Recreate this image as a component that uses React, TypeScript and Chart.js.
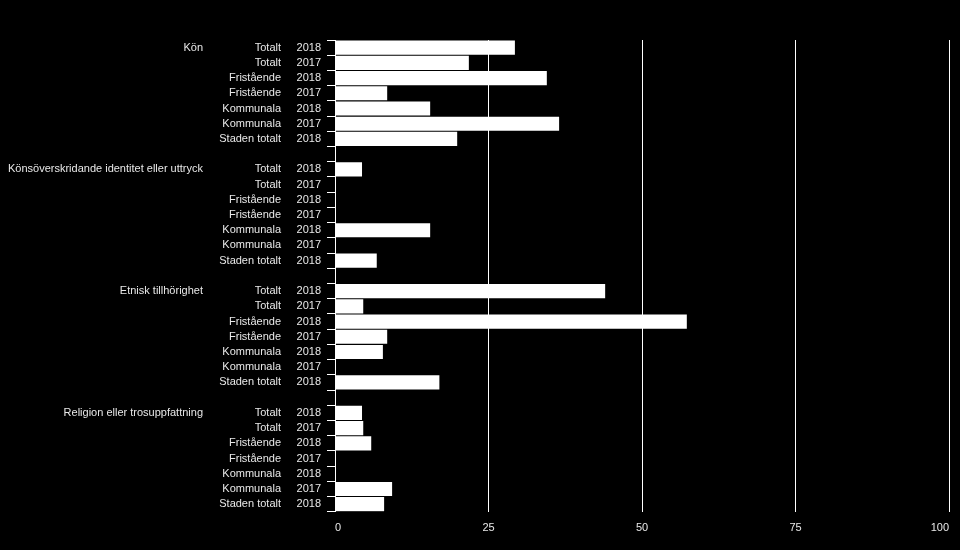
import React, { useEffect, useRef } from "react";
import { Chart, registerables } from "chart.js";

Chart.register(...registerables);

const groupNames = [
  "Kön",
  "Könsöverskridande identitet eller uttryck",
  "Etnisk tillhörighet",
  "Religion eller trosuppfattning",
];
const subLabels = ["Totalt", "Totalt", "Fristående", "Fristående", "Kommunala", "Kommunala", "Staden totalt"];
const yearLabels = ["2018", "2017", "2018", "2017", "2018", "2017", "2018"];

const konValues = [29.3, 21.8, 34.5, 8.5, 15.5, 36.5, 19.9];
const konsoverskridandeValues = [4.4, 0, 0, 0, 15.5, 0, 6.8];
const etniskValues = [44.0, 4.6, 57.3, 8.5, 7.8, 0, 17.0];
const religionValues = [4.4, 4.6, 5.9, 0, 0, 9.3, 8.0];

const xTicks = [0, 25, 50, 75, 100];

const FONT = "'Liberation Sans', Arial, Helvetica, sans-serif";
const TEXT = "#e8e8e8";

type Row = { group: string; sub: string; year: string; value: number | null };

function buildRows(): Row[] {
  const series = [konValues, konsoverskridandeValues, etniskValues, religionValues];
  const rows: Row[] = [];
  series.forEach((vals, g) => {
    if (g > 0) rows.push({ group: "", sub: "", year: "", value: null });
    vals.forEach((v, i) => {
      rows.push({ group: i === 0 ? groupNames[g] : "", sub: subLabels[i], year: yearLabels[i], value: v });
    });
  });
  return rows;
}

export default function App() {
  const ref = useRef<HTMLCanvasElement | null>(null);

  useEffect(() => {
    if (!ref.current) return;
    const rows = buildRows();

    const labelPlugin = {
      id: "multiLabels",
      afterDraw(chart: any) {
        const ctx = chart.ctx;
        const y = chart.scales.y;
        ctx.save();
        ctx.font = `11px ${FONT}`;
        ctx.fillStyle = TEXT;
        ctx.textBaseline = "middle";
        ctx.textAlign = "right";
        rows.forEach((r, i) => {
          const py = y.getPixelForValue(i);
          if (r.year) ctx.fillText(r.year, 321, py);
          if (r.sub) ctx.fillText(r.sub, 281, py);
          if (r.group) ctx.fillText(r.group, 203, py);
        });
        ctx.restore();
      },
    };

    const chart = new Chart(ref.current, {
      type: "bar",
      data: {
        labels: rows.map((r, i) => `${r.group}|${r.sub}|${r.year}|${i}`),
        datasets: [
          {
            data: rows.map((r) => r.value) as any,
            backgroundColor: "#ffffff",
            borderWidth: 0,
            barPercentage: 0.93,
            categoryPercentage: 1,
          },
        ],
      },
      options: {
        indexAxis: "y",
        animation: false,
        responsive: false,
        maintainAspectRatio: false,
        layout: { padding: { left: 327, top: 40, right: 11, bottom: 5 } },
        plugins: { legend: { display: false }, tooltip: { enabled: false }, title: { display: false } },
        scales: {
          x: {
            min: 0,
            max: 100,
            afterBuildTicks: (axis: any) => {
              axis.ticks = xTicks.map((v) => ({ value: v }));
            },
            grid: { color: "#ffffff", lineWidth: 1, drawTicks: false },
            border: { display: false },
            ticks: {
              color: TEXT,
              font: { family: FONT, size: 11 },
              padding: 10,
              align: "inner",
              maxRotation: 0,
            },
          },
          y: {
            grid: {
              display: true,
              drawOnChartArea: false,
              drawTicks: true,
              tickLength: 8,
              color: "#ffffff",
              lineWidth: 1,
            },
            border: { display: true, color: "#ffffff", width: 1 },
            ticks: { display: false },
          },
        },
      },
      plugins: [labelPlugin],
    });
    return () => chart.destroy();
  }, []);

  return (
    <div style={{ position: "fixed", left: 0, top: 0, width: 960, height: 550, background: "#000" }}>
      <canvas ref={ref} width={960} height={550} style={{ display: "block", width: 960, height: 550 }} />
    </div>
  );
}
